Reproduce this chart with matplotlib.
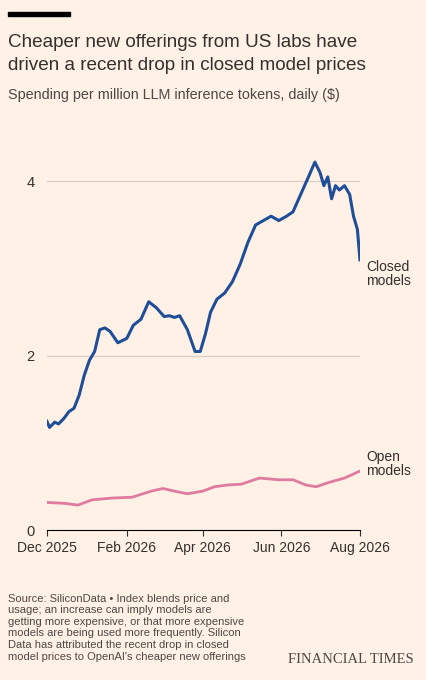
import matplotlib
matplotlib.use("Agg")
import matplotlib.pyplot as plt
import pandas as pd

closed_dates = ["2025-12-01","2025-12-03","2025-12-07","2025-12-10","2025-12-14","2025-12-18","2025-12-22","2025-12-26",
 "2025-12-30","2026-01-03","2026-01-07","2026-01-11","2026-01-15","2026-01-19","2026-01-25","2026-02-01","2026-02-06",
 "2026-02-12","2026-02-18","2026-02-24","2026-03-02","2026-03-06","2026-03-10","2026-03-14","2026-03-20","2026-03-26",
 "2026-03-30","2026-04-03","2026-04-07","2026-04-12","2026-04-18","2026-04-24","2026-04-30","2026-05-06","2026-05-12",
 "2026-05-18","2026-05-24","2026-05-30","2026-06-05","2026-06-10","2026-06-16","2026-06-22","2026-06-27","2026-07-01",
 "2026-07-04","2026-07-07","2026-07-10","2026-07-13","2026-07-16","2026-07-20","2026-07-24","2026-07-27","2026-07-30","2026-08-01"]
closed_vals = [1.25,1.18,1.24,1.22,1.28,1.36,1.40,1.55,1.78,1.95,2.05,2.30,2.32,2.28,2.15,2.20,2.35,2.42,2.62,2.55,
 2.45,2.46,2.44,2.46,2.30,2.05,2.05,2.25,2.50,2.65,2.72,2.85,3.05,3.30,3.50,3.55,3.60,3.55,3.60,3.65,3.85,4.05,
 4.22,4.10,3.95,4.05,3.80,3.95,3.90,3.95,3.85,3.60,3.45,3.10]
open_dates = ["2025-12-01","2025-12-15","2025-12-25","2026-01-05","2026-01-20","2026-02-05","2026-02-20","2026-03-01",
 "2026-03-10","2026-03-20","2026-04-01","2026-04-10","2026-04-20","2026-05-01","2026-05-15","2026-05-30","2026-06-10",
 "2026-06-20","2026-06-28","2026-07-08","2026-07-20","2026-08-01"]
open_vals = [0.32,0.31,0.29,0.35,0.37,0.38,0.45,0.48,0.45,0.42,0.45,0.50,0.52,0.53,0.60,0.58,0.58,0.52,0.50,0.55,0.60,0.68]

bg = "#FFF1E5"
fig = plt.figure(figsize=(4.27, 6.8), dpi=100, facecolor=bg)
plt.rcParams['font.family'] = ['Liberation Sans', 'DejaVu Sans']
ax = fig.add_axes([0.11, 0.22, 0.733, 0.575], facecolor=bg)
cd = pd.to_datetime(closed_dates); od = pd.to_datetime(open_dates)
ax.plot(cd, closed_vals, color="#1F4E99", lw=2.2)
ax.plot(od, open_vals, color="#E07BA0", lw=2.0)
ax.set_ylim(0, 4.48)
ax.set_xlim(pd.Timestamp("2025-12-01"), pd.Timestamp("2026-08-01"))
ax.set_yticks([0, 2, 4]); ax.set_yticklabels(["0", "2", "4"])
ax.grid(axis="y", color="#D9CEC3", lw=0.9)
ax.set_axisbelow(True)
for s in ["top", "right", "left"]:
    ax.spines[s].set_visible(False)
ax.spines["bottom"].set_color("#000000")
ax.tick_params(axis="y", length=0, labelsize=10.5, colors="#33302E", pad=12)
for lab in ax.get_yticklabels():
    lab.set_horizontalalignment("center")
ticks = pd.to_datetime(["2025-12-01","2026-02-01","2026-04-01","2026-06-01","2026-08-01"])
ax.set_xticks(ticks)
ax.set_xticklabels(["Dec 2025","Feb 2026","Apr 2026","Jun 2026","Aug 2026"])
ax.tick_params(axis="x", labelsize=10, colors="#33302E", length=4)
ax.text(1.02, 0.655, "Closed\nmodels", transform=ax.transAxes, fontsize=10, color="#33302E", va="center", linespacing=1.0)
ax.text(1.02, 0.17, "Open\nmodels", transform=ax.transAxes, fontsize=10, color="#33302E", va="center", linespacing=1.0)

fig.add_artist(plt.Rectangle((0.019, 0.976), 0.146, 0.006, transform=fig.transFigure, color="#000000"))
fig.text(0.019, 0.921, "Cheaper new offerings from US labs have\ndriven a recent drop in closed model prices",
         fontsize=13.6, color="#33302E", va="center", linespacing=1.45)
fig.text(0.019, 0.86, "Spending per million LLM inference tokens, daily ($)", fontsize=10.4, color="#4D4845", va="center")
fig.text(0.019, 0.077, "Source: SiliconData • Index blends price and\nusage; an increase can imply models are\n"
         "getting more expensive, or that more expensive\nmodels are being used more frequently. Silicon\n"
         "Data has attributed the recent drop in closed\nmodel prices to OpenAI's cheaper new offerings",
         fontsize=8.0, color="#4D4845", va="center", linespacing=1.2)
fig.text(0.97, 0.02, "FINANCIAL TIMES", fontsize=10.5, family=["Liberation Serif"], color="#4D4845", ha="right", va="bottom")
fig.savefig("out.png", dpi=100, facecolor=bg)
